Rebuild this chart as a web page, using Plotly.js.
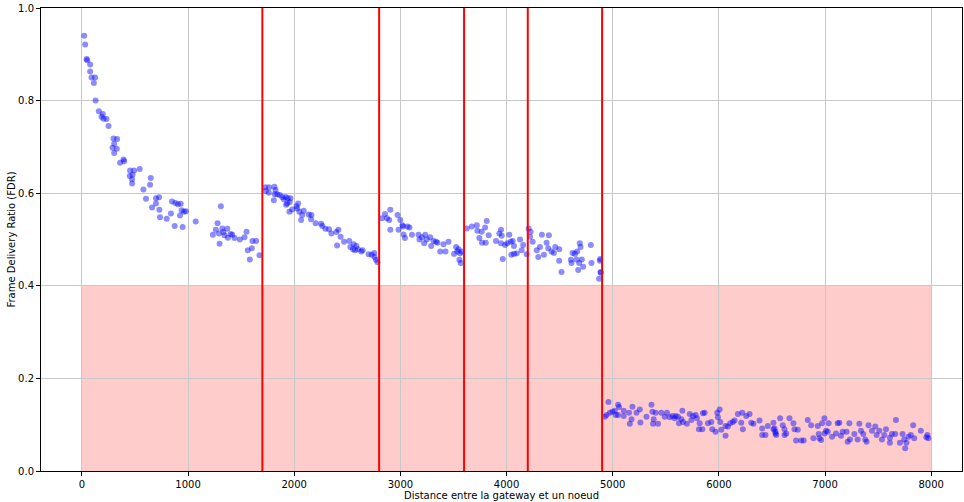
<!DOCTYPE html>
<html>
<head>
<meta charset="utf-8">
<script src="https://cdn.plot.ly/plotly-3.0.1.min.js"></script>
<style>html,body{margin:0;padding:0;background:#fff;}#chart{width:964px;height:502px;}</style>
</head>
<body>
<div id="chart"></div>
<script>
// Segment 1 : 0 - 1700 m
const seg1X = [22,31,44,50,78,78,91,125,113,129,160,197,185,204,232,251,298,332,304,289,329,304,392,360,398,454,492,545,477,451,473,473,649,642,580,604,698,727,661,698,730,736,799,839,874,949,849,881,905,931,940,924,962,980,1072,1309,1278,1262,1234,1291,1323,1332,1370,1344,1375,1401,1417,1438,1488,1532,1551,1297,1607,1642,1563,1601,1582,1673];
const seg1Y = [0.940,0.921,0.890,0.887,0.878,0.863,0.850,0.850,0.838,0.800,0.777,0.771,0.765,0.761,0.760,0.745,0.718,0.717,0.707,0.698,0.696,0.687,0.673,0.666,0.669,0.649,0.649,0.652,0.640,0.637,0.630,0.621,0.633,0.618,0.608,0.588,0.589,0.591,0.569,0.578,0.564,0.548,0.545,0.556,0.529,0.527,0.582,0.579,0.576,0.577,0.563,0.552,0.560,0.561,0.539,0.572,0.535,0.521,0.510,0.513,0.524,0.516,0.523,0.509,0.504,0.512,0.510,0.503,0.500,0.505,0.517,0.491,0.497,0.497,0.477,0.481,0.457,0.466];
// Segment 2 : 1700 - 2800 m
const seg2X = [1727,1732,1764,1761,1814,1824,1817,1808,1840,1864,1887,1902,1920,1939,1965,1924,1934,1958,1955,1981,2021,2037,2028,2049,2075,2065,2090,2137,2162,2159,2202,2253,2265,2294,2328,2350,2397,2416,2404,2437,2469,2519,2529,2560,2554,2585,2573,2601,2632,2644,2701,2729,2754,2757,2770,2785];
const seg2Y = [0.613,0.605,0.613,0.601,0.614,0.607,0.598,0.585,0.598,0.596,0.592,0.587,0.592,0.589,0.589,0.575,0.578,0.581,0.560,0.565,0.572,0.578,0.567,0.560,0.553,0.542,0.562,0.554,0.553,0.544,0.535,0.534,0.529,0.523,0.522,0.513,0.516,0.521,0.487,0.506,0.495,0.497,0.484,0.490,0.479,0.486,0.477,0.479,0.474,0.477,0.468,0.467,0.471,0.462,0.456,0.451];
// Segment 3 : 2800 - 3600 m
const seg3X = [2826,2855,2873,2895,2905,2905,2974,2983,2999,3020,3024,3030,3043,3067,3086,3109,3171,3180,3203,3224,3234,3249,3281,3290,3312,3337,3349,3375,3406,3425,3453,3525,3506,3547,3537,3563,3556,3578,3569];
const seg3Y = [0.546,0.555,0.546,0.542,0.564,0.521,0.553,0.521,0.542,0.531,0.528,0.511,0.503,0.528,0.526,0.510,0.510,0.500,0.505,0.492,0.510,0.500,0.505,0.486,0.497,0.495,0.493,0.474,0.490,0.474,0.495,0.484,0.469,0.479,0.474,0.470,0.456,0.474,0.449];
// Segment 4 : 3600 - 4200 m
const seg4X = [3625,3673,3720,3725,3766,3798,3813,3832,3744,3769,3804,3901,3932,3948,3955,3948,3964,3986,4007,4026,4039,4058,4045,4070,4096,4070,4127,4142,4157,4190];
const seg4Y = [0.524,0.528,0.531,0.519,0.517,0.526,0.540,0.509,0.503,0.493,0.493,0.497,0.513,0.521,0.508,0.492,0.458,0.488,0.492,0.510,0.495,0.497,0.467,0.469,0.470,0.486,0.500,0.477,0.488,0.468];
// Segment 5 : 4200 - 4900 m
const seg5X = [4208,4227,4221,4246,4284,4315,4299,4333,4352,4377,4399,4393,4424,4446,4459,4496,4496,4518,4606,4612,4622,4644,4665,4659,4690,4697,4684,4709,4722,4675,4794,4800,4879,4885,4872,4882,4888];
const seg5Y = [0.524,0.517,0.506,0.495,0.477,0.484,0.462,0.510,0.467,0.493,0.509,0.481,0.474,0.471,0.484,0.479,0.454,0.430,0.456,0.449,0.471,0.469,0.474,0.457,0.492,0.484,0.449,0.457,0.441,0.434,0.488,0.449,0.454,0.430,0.415,0.458,0.428];
// Segment 6 : 4900 - 8000 m
const seg6X = [4926,4942,4960,4973,4998,5020,5029,5051,5060,5051,5104,5104,5154,5161,5177,5186,5224,5255,5261,5318,5365,5374,5386,5380,5427,5405,5458,5490,5511,5537,5562,5583,5593,5624,5615,5647,5656,5662,5699,5725,5741,5756,5793,5781,5819,5812,5844,5850,5866,5897,5929,5938,5969,5985,5991,6007,6013,6023,6063,6063,6085,6107,6132,6148,6179,6220,6211,6226,6258,6289,6305,6326,6383,6408,6408,6439,6461,6514,6524,6533,6540,6577,6602,6618,6514,6533,6618,6634,6665,6702,6712,6727,6743,6775,6799,6837,6869,6890,6931,6940,6947,6963,6972,6994,6994,7010,7034,7025,7066,7103,7119,7135,7150,7166,7203,7213,7229,7235,7276,7307,7323,7338,7360,7379,7391,7410,7442,7473,7486,7511,7536,7558,7574,7611,7611,7630,7668,7661,7705,7730,7746,7755,7767,7786,7808,7830,7840,7902,7964,7973,7954];
const seg6Y = [0.117,0.121,0.149,0.126,0.128,0.130,0.121,0.143,0.138,0.121,0.130,0.119,0.126,0.102,0.112,0.139,0.126,0.133,0.105,0.117,0.143,0.128,0.112,0.102,0.102,0.126,0.126,0.117,0.126,0.116,0.119,0.114,0.119,0.103,0.117,0.112,0.130,0.106,0.102,0.123,0.110,0.119,0.114,0.121,0.103,0.090,0.090,0.125,0.126,0.103,0.106,0.090,0.085,0.126,0.116,0.133,0.106,0.089,0.097,0.076,0.096,0.103,0.106,0.109,0.123,0.126,0.104,0.090,0.119,0.123,0.104,0.102,0.109,0.092,0.078,0.078,0.097,0.104,0.092,0.085,0.078,0.114,0.099,0.078,0.090,0.081,0.090,0.081,0.114,0.103,0.090,0.066,0.089,0.066,0.066,0.110,0.099,0.071,0.097,0.080,0.071,0.067,0.103,0.114,0.081,0.087,0.103,0.085,0.074,0.081,0.103,0.104,0.076,0.085,0.085,0.063,0.103,0.068,0.080,0.068,0.102,0.087,0.080,0.068,0.063,0.099,0.087,0.096,0.078,0.087,0.068,0.078,0.090,0.072,0.061,0.080,0.110,0.080,0.061,0.080,0.068,0.049,0.061,0.074,0.078,0.099,0.071,0.087,0.078,0.071,0.073];

// Boundaries (red lines) and shaded zone
const boundaries = [1700, 2800, 3600, 4200, 4900];
const zoneStart = 0, zoneEnd = 8000, zoneTop = 0.4;
const xTicks = [0,1000,2000,3000,4000,5000,6000,7000,8000];
const yTicks = [0,0.2,0.4,0.6,0.8,1.0];

const distX = [].concat(seg1X, seg2X, seg3X, seg4X, seg5X, seg6X);
const fdrY = [].concat(seg1Y, seg2Y, seg3Y, seg4Y, seg5Y, seg6Y);

const trace = {
  x: distX, y: fdrY, type: 'scatter', mode: 'markers',
  marker: {color: 'rgba(0,0,255,0.45)', size: 6, line: {width: 0}},
  hoverinfo: 'skip'
};

const shapes = [{
  type: 'rect', xref: 'x', yref: 'y', x0: zoneStart, x1: zoneEnd, y0: 0, y1: zoneTop,
  fillcolor: 'rgba(255,0,0,0.2)', line: {width: 0}, layer: 'below'
}].concat(boundaries.map(b => ({
  type: 'line', xref: 'x', yref: 'paper', x0: b, x1: b, y0: 0, y1: 1,
  line: {color: '#ff0000', width: 2}, layer: 'above'
})));

const axisCommon = {
  showline: true, mirror: true, linecolor: '#000', linewidth: 1,
  ticks: 'outside', ticklen: 4, tickcolor: '#000', tickwidth: 1,
  showgrid: true, gridcolor: '#c8c8c8', gridwidth: 1, zeroline: false,
  tickfont: {family: 'DejaVu Sans', size: 10, color: '#000'}
};

const layout = {
  width: 964, height: 502,
  margin: {l: 41, r: 2, t: 8, b: 31},
  paper_bgcolor: '#fff', plot_bgcolor: '#fff',
  showlegend: false,
  xaxis: Object.assign({}, axisCommon, {
    range: [-385, 8290], tickvals: xTicks, ticktext: xTicks.map(String),
    title: {text: 'Distance entre la gateway et un noeud', font: {family: 'DejaVu Sans', size: 10, color: '#000'}, standoff: 1}
  }),
  yaxis: Object.assign({}, axisCommon, {
    range: [0, 1], tickvals: yTicks, ticktext: yTicks.map(v => v.toFixed(1)),
    title: {text: 'Frame Delivery Ratio (FDR)', font: {family: 'DejaVu Sans', size: 10, color: '#000'}, standoff: 0}
  }),
  shapes: shapes
};

Plotly.newPlot('chart', [trace], layout, {staticPlot: true, displayModeBar: false});
</script>
</body>
</html>
